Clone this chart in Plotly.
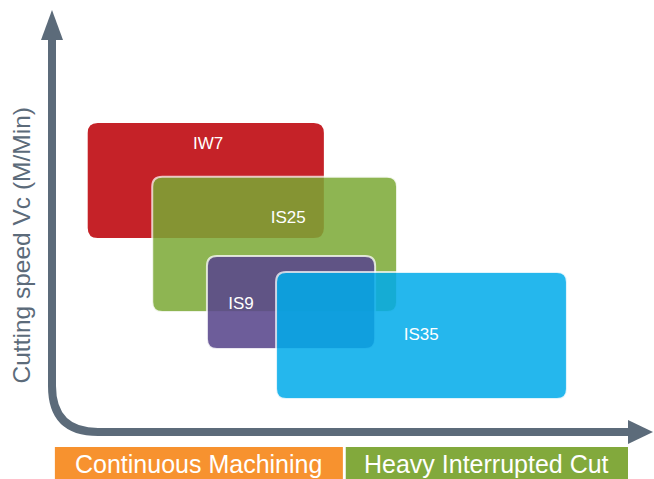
import plotly.graph_objects as go

# insert grades: extent along the machining-condition axis and the speed axis
grades = ["IW7", "IS25", "IS9", "IS35"]
cond_start = [6.2, 17.4, 26.9, 38.9]
cond_end = [47.2, 59.9, 56.1, 89.4]
speed_low = [49.5, 30.6, 21.2, 8.4]
speed_high = [78.8, 65.1, 44.9, 40.8]
label_cond = [27.1, 41.0, 32.8, 64.1]
label_speed = [73.3, 54.3, 32.5, 24.6]

# machining condition bands under the x axis
bands = ["Continuous Machining", "Heavy Interrupted Cut"]
band_start = [0.5, 51.0]
band_end = [50.5, 100.0]

grade_colors = ["rgb(197,34,40)", "rgb(123,169,53)", "rgb(90,71,141)", "rgb(0,171,235)"]
grade_opacity = [1.0, 0.85, 0.88, 0.85]
band_colors = ["#f7922f", "#82a93c"]
axis_color = "#5c6b7a"
font = "Liberation Sans, Arial, Helvetica, sans-serif"

# pixel scale of the data units
px_x = 5.76
px_y = 3.92


def rounded(x0, x1, y0, y1, r=10):
    rx, ry = r / px_x, r / px_y
    return (f"M {x0 + rx},{y0} L {x1 - rx},{y0} Q {x1},{y0} {x1},{y0 + ry} "
            f"L {x1},{y1 - ry} Q {x1},{y1} {x1 - rx},{y1} "
            f"L {x0 + rx},{y1} Q {x0},{y1} {x0},{y1 - ry} "
            f"L {x0},{y0 + ry} Q {x0},{y0} {x0 + rx},{y0} Z")


shapes = []
for i in range(len(grades)):
    shapes.append(dict(
        type="path", xref="x", yref="y", layer="below",
        path=rounded(cond_start[i], cond_end[i], speed_low[i], speed_high[i]),
        fillcolor=grade_colors[i], opacity=grade_opacity[i],
        line=dict(color="rgba(255,255,255,0.85)" if i > 0 else grade_colors[i], width=2 if i > 0 else 0),
    ))

# axes: L shaped line with rounded corner + arrow heads
cr_x, cr_y = 46 / px_x, 46 / px_y
shapes.append(dict(
    type="path", xref="x", yref="y", layer="above",
    path=f"M 0,100 L 0,{cr_y} Q 0,0 {cr_x},0 L 100,0",
    line=dict(color=axis_color, width=8),
))
shapes.append(dict(
    type="path", xref="x", yref="y", layer="above",
    path=f"M {-11 / px_x},100 L 0,{100 + 30 / px_y} L {11 / px_x},100 Z",
    fillcolor=axis_color, line=dict(color=axis_color, width=0),
))
shapes.append(dict(
    type="path", xref="x", yref="y", layer="above",
    path=f"M 100,{-12 / px_y} L {100 + 25 / px_x},0 L 100,{12 / px_y} Z",
    fillcolor=axis_color, line=dict(color=axis_color, width=0),
))

annotations = []
for i in range(len(bands)):
    shapes.append(dict(
        type="rect", xref="x", yref="y", layer="above",
        x0=band_start[i], x1=band_end[i], y0=-3.8, y1=-12.5,
        fillcolor=band_colors[i], line=dict(width=0),
    ))
    annotations.append(dict(
        x=(band_start[i] + band_end[i]) / 2, y=-8.2, xref="x", yref="y",
        text=bands[i], showarrow=False,
        font=dict(family=font, size=25, color="white"),
    ))

annotations.append(dict(
    x=-5.3, y=47.7, xref="x", yref="y", text="Cutting speed Vc (M/Min)",
    textangle=-90, showarrow=False,
    font=dict(family=font, size=24.5, color=axis_color),
))

fig = go.Figure()
fig.add_trace(go.Scatter(
    x=label_cond, y=label_speed, mode="text", text=grades,
    textfont=dict(family=font, size=17, color="white"),
    hoverinfo="skip", showlegend=False,
))

fig.update_layout(
    width=654, height=479,
    margin=dict(l=0, r=0, t=0, b=0),
    paper_bgcolor="white", plot_bgcolor="white",
    xaxis=dict(range=[-52 / px_x, 602 / px_x], visible=False, fixedrange=True),
    yaxis=dict(range=[-47 / px_y, 432 / px_y], visible=False, fixedrange=True),
    shapes=shapes, annotations=annotations,
    showlegend=False,
)

fig.write_html("out.html", config={"displayModeBar": False},
               post_script="document.body.style.margin='0';document.body.style.overflow='hidden';")
